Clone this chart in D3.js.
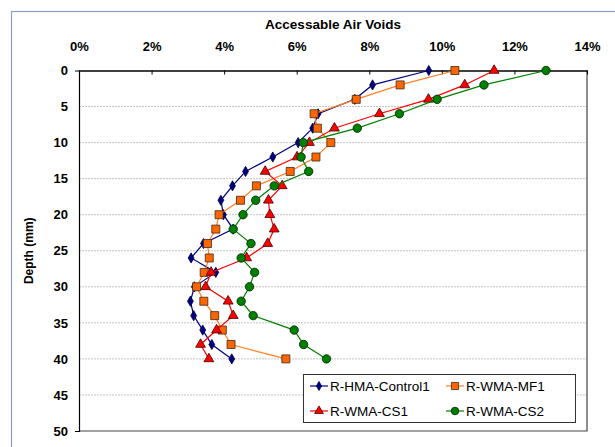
<!DOCTYPE html>
<html>
<head>
<meta charset="utf-8">
<script src="https://cdn.jsdelivr.net/npm/d3@7"></script>
<style>
  html, body { margin: 0; padding: 0; background: #fff; }
  svg { display: block; font-family: "Liberation Sans", Arial, sans-serif; }
</style>
</head>
<body>
<svg id="chart" width="615" height="447"></svg>
<script>
// Depth below the surface (mm), one reading every 2 mm
const depths = [0, 2, 4, 6, 8, 10, 12, 14, 16, 18, 20, 22, 24, 26, 28, 30, 32, 34, 36, 38, 40];

// Accessible air voids (%) at each depth
const hmaControl1 = [9.64, 8.09, 7.60, 6.59, 6.44, 6.04, 5.34, 4.59, 4.23, 3.91, 3.98, 4.25, 3.43, 3.09, 3.77, 3.18, 3.07, 3.16, 3.41, 3.66, 4.21];
const wmaMF1      = [10.36, 8.85, 7.64, 6.48, 6.57, 6.94, 6.53, 5.82, 4.89, 4.45, 3.86, 3.77, 3.54, 3.59, 3.45, 3.24, 3.44, 3.74, 3.95, 4.19, 5.70];
const wmaCS1      = [11.44, 10.63, 9.63, 8.28, 7.04, 6.35, 6.01, 5.13, 5.60, 5.22, 5.26, 5.38, 5.20, 4.62, 3.64, 3.49, 4.11, 4.25, 3.79, 3.35, 3.58];
const wmaCS2      = [12.87, 11.16, 9.87, 8.83, 7.67, 6.18, 6.12, 6.33, 5.38, 4.87, 4.52, 4.25, 4.74, 4.47, 4.84, 4.70, 4.47, 4.80, 5.93, 6.19, 6.82];

const seriesNames = ["R-HMA-Control1", "R-WMA-MF1", "R-WMA-CS1", "R-WMA-CS2"];
const xTicks = [0, 2, 4, 6, 8, 10, 12, 14];
const yTicks = [0, 5, 10, 15, 20, 25, 30, 35, 40, 45, 50];

const series = [
  { name: seriesNames[0], values: hmaControl1, line: "#000080", fill: "#000080", stroke: "#000040", shape: d3.symbolDiamond, size: 30 },
  { name: seriesNames[1], values: wmaMF1,      line: "#FF7F27", fill: "#FF6600", stroke: "#3a2a1a", shape: d3.symbolSquare,  size: 64 },
  { name: seriesNames[2], values: wmaCS1,      line: "#FF0000", fill: "#FF0000", stroke: "#400000", shape: d3.symbolTriangle, size: 42 },
  { name: seriesNames[3], values: wmaCS2,      line: "#008000", fill: "#008000", stroke: "#002000", shape: d3.symbolCircle,  size: 56 }
];

const svg = d3.select("#chart");
const plotLeft = 79, plotRight = 587, plotTop = 70.5, plotBottom = 431;

const x = d3.scaleLinear().domain([0, 14]).range([plotLeft, plotRight]);
const y = d3.scaleLinear().domain([0, 50]).range([plotTop, plotBottom]);

// chart frame
svg.append("rect")
  .attr("x", 11.5).attr("y", 11.5)
  .attr("width", 640).attr("height", 460)
  .attr("fill", "#fff")
  .attr("stroke", "#86a0c8")
  .attr("stroke-width", 1.2);

// horizontal gridlines
svg.append("g")
  .selectAll("line")
  .data(yTicks.filter(t => t > 0 && t < 50))
  .join("line")
  .attr("x1", plotLeft).attr("x2", plotRight)
  .attr("y1", d => y(d)).attr("y2", d => y(d))
  .attr("stroke", "#c4c4c4")
  .attr("stroke-width", 1)
  .attr("stroke-dasharray", "2,1");

// plot area border (right and bottom)
svg.append("path")
  .attr("d", `M${plotRight},${plotTop}V${plotBottom}H${plotLeft}`)
  .attr("fill", "none")
  .attr("stroke", "#444")
  .attr("stroke-width", 1.2);

// x axis along the top
const xAxis = svg.append("g")
  .attr("transform", `translate(0,${plotTop})`)
  .call(d3.axisTop(x).tickValues(xTicks).tickFormat(d => d + "%").tickSizeInner(-4).tickSizeOuter(0).tickPadding(20));
xAxis.select(".domain").attr("stroke", "#000").attr("stroke-width", 1.5);
xAxis.selectAll(".tick line").attr("stroke", "#000");
xAxis.selectAll("text")
  .attr("font-size", 13).attr("font-weight", "bold").attr("fill", "#000")
  .attr("font-family", "Liberation Sans, Arial, sans-serif");

// y axis (depth)
const yAxis = svg.append("g")
  .attr("transform", `translate(${plotLeft},0)`)
  .call(d3.axisLeft(y).tickValues(yTicks).tickSizeInner(0).tickSizeOuter(4).tickPadding(11));
yAxis.select(".domain").attr("stroke", "#000").attr("stroke-width", 1.2);
yAxis.selectAll("text")
  .attr("font-size", 13).attr("font-weight", "bold").attr("fill", "#000")
  .attr("font-family", "Liberation Sans, Arial, sans-serif");

// titles
svg.append("text")
  .attr("x", 333).attr("y", 29)
  .attr("text-anchor", "middle")
  .attr("font-size", 13.5).attr("font-weight", "bold")
  .text("Accessable Air Voids");

svg.append("text")
  .attr("transform", `translate(33,${(plotTop + plotBottom) / 2}) rotate(-90)`)
  .attr("text-anchor", "middle")
  .attr("font-size", 12).attr("font-weight", "bold")
  .text("Depth (mm)");

// series lines and markers
const line = d3.line().x(d => x(d.v)).y(d => y(d.depth));

series.forEach(s => {
  const pts = depths.map((depth, i) => ({ depth, v: s.values[i] }));
  const g = svg.append("g");
  g.append("path")
    .datum(pts)
    .attr("d", line)
    .attr("fill", "none")
    .attr("stroke", s.line)
    .attr("stroke-width", 1.2);
  g.selectAll("path.mark")
    .data(pts)
    .join("path")
    .attr("class", "mark")
    .attr("transform", d => `translate(${x(d.v)},${y(d.depth)})`)
    .attr("d", d3.symbol().type(s.shape).size(s.size))
    .attr("fill", s.fill)
    .attr("stroke", s.stroke)
    .attr("stroke-width", 0.8);
});

// legend
const lg = svg.append("g");
lg.append("rect")
  .attr("x", 303.5).attr("y", 374.5)
  .attr("width", 272).attr("height", 48)
  .attr("fill", "#fff")
  .attr("stroke", "#333")
  .attr("stroke-width", 1);

const legendPos = [
  { x: 310, y: 386 }, { x: 446, y: 386 },
  { x: 310, y: 411 }, { x: 446, y: 411 }
];

series.forEach((s, i) => {
  const p = legendPos[i];
  lg.append("line")
    .attr("x1", p.x).attr("x2", p.x + 18)
    .attr("y1", p.y).attr("y2", p.y)
    .attr("stroke", s.line).attr("stroke-width", 1.2);
  lg.append("path")
    .attr("transform", `translate(${p.x + 9},${p.y})`)
    .attr("d", d3.symbol().type(s.shape).size(s.size * 0.8))
    .attr("fill", s.fill)
    .attr("stroke", s.stroke)
    .attr("stroke-width", 0.8);
  lg.append("text")
    .attr("x", p.x + 20).attr("y", p.y)
    .attr("dy", "0.36em")
    .attr("font-size", 13.5)
    .text(s.name);
});
</script>
</body>
</html>
